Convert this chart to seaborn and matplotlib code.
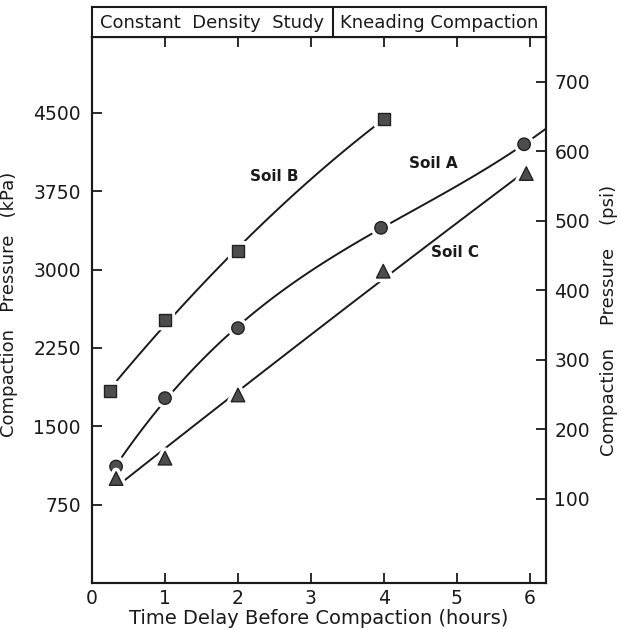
import numpy as np
import pandas as pd
import matplotlib
matplotlib.use("Agg")
import matplotlib.pyplot as plt
import matplotlib.patheffects as pe
import seaborn as sns

# Compaction pressure (kPa) versus time delay (hours) for three soils
soil_b_hours = [0.25, 1.0, 2.0, 4.0]
soil_b_kpa = [1840, 2515, 3180, 4445]

soil_a_hours = [0.33, 1.0, 2.0, 3.96, 5.92]
soil_a_kpa = [1115, 1770, 2440, 3400, 4200]

soil_c_hours = [0.33, 1.0, 2.0, 3.99, 5.95]
soil_c_kpa = [1000, 1195, 1800, 2985, 3920]

x_ticks = [0, 1, 2, 3, 4, 5, 6]
kpa_ticks = [750, 1500, 2250, 3000, 3750, 4500]
psi_ticks = [100, 200, 300, 400, 500, 600, 700]

header_left = "Constant  Density  Study"
header_right = "Kneading Compaction"

INK = "#1a1a1a"

series = [
    # name, hours, kPa, marker, marker size, fit degree, curve span, label xy
    ("Soil B", soil_b_hours, soil_b_kpa, "s", 75, 2, (0.34, 3.88), (2.50, 3890)),
    ("Soil A", soil_a_hours, soil_a_kpa, "o", 80, 3, (0.41, 6.22), (4.68, 4015)),
    ("Soil C", soil_c_hours, soil_c_kpa, "^", 95, 2, (0.41, 5.88), (4.97, 3160)),
]

sns.set_style("ticks")
plt.rcParams["font.family"] = ["DejaVu Sans"]

fig = plt.figure(figsize=(6.21, 6.29), dpi=100)
ax = fig.add_axes([92 / 621, 1 - 583 / 629, 454 / 621, 546 / 629])

for name, hrs, kpa, marker, msize, deg, span, lxy in series:
    coef = np.polyfit(hrs, kpa, deg)
    xs = np.linspace(span[0], span[1], 120)
    curve = pd.DataFrame({"hours": xs, "kpa": np.polyval(coef, xs)})
    sns.lineplot(data=curve, x="hours", y="kpa", ax=ax, color=INK,
                 linewidth=1.4, zorder=2)
    pts = pd.DataFrame({"hours": hrs, "kpa": kpa})
    sc = sns.scatterplot(data=pts, x="hours", y="kpa", ax=ax, marker=marker,
                         s=msize, color="#4d4d4d", edgecolor="#222222",
                         linewidth=1.0, zorder=3)
    sc.collections[-1].set_path_effects(
        [pe.Stroke(linewidth=6, foreground="white"), pe.Normal()])
    ax.text(lxy[0], lxy[1], name, ha="center", va="center", fontsize=11,
            color=INK, fontweight="semibold")

ax.set_xlim(0, 6.22)
ax.set_ylim(0, 5227)
ax.set_xticks(x_ticks)
ax.set_yticks(kpa_ticks)
ax.set_xticklabels([str(t) for t in x_ticks])
ax.set_yticklabels([str(t) for t in kpa_ticks])
ax.tick_params(axis="both", direction="in", length=7, width=1.3,
               labelsize=13.5, color=INK, labelcolor=INK)
ax.tick_params(axis="x", top=True, pad=4)
ax.tick_params(axis="y", right=False, pad=8)
ax.set_xlabel("Time Delay Before Compaction (hours)", fontsize=14,
              color=INK, labelpad=1)
ax.set_ylabel("Compaction   Pressure   (kPa)", fontsize=13, color=INK)
ax.yaxis.set_label_coords(-0.163, 0.511)
for sp in ax.spines.values():
    sp.set_linewidth(1.5)
    sp.set_color(INK)

# Secondary pressure scale in psi
ax2 = ax.twinx()
ax2.set_ylim(-20.9, 764.7)
ax2.set_yticks(psi_ticks)
ax2.set_yticklabels([str(t) for t in psi_ticks])
ax2.tick_params(axis="y", direction="in", length=7, width=1.3, labelsize=13.5,
                pad=6, color=INK, labelcolor=INK)
ax2.set_ylabel("Compaction    Pressure    (psi)", fontsize=13, color=INK,
               rotation=90, va="center")
ax2.yaxis.set_label_coords(1.138, 0.48)
for sp in ax2.spines.values():
    sp.set_linewidth(1.5)
    sp.set_color(INK)

# Title strip above the plot
hdr = fig.add_axes([92 / 621, 1 - 37 / 629, 454 / 621, 30 / 629], sharex=ax)
hdr.set_ylim(0, 1)
hdr.axvline(3.295, color=INK, linewidth=1.5)
hdr.text(1.64, 0.47, header_left, ha="center", va="center", fontsize=13,
         color=INK)
hdr.text(4.75, 0.47, header_right, ha="center", va="center", fontsize=13,
         color=INK)
hdr.tick_params(left=False, bottom=False, labelleft=False, labelbottom=False)
for sp in hdr.spines.values():
    sp.set_linewidth(1.5)
    sp.set_color(INK)

fig.savefig("out.png", dpi=100, facecolor="white")
